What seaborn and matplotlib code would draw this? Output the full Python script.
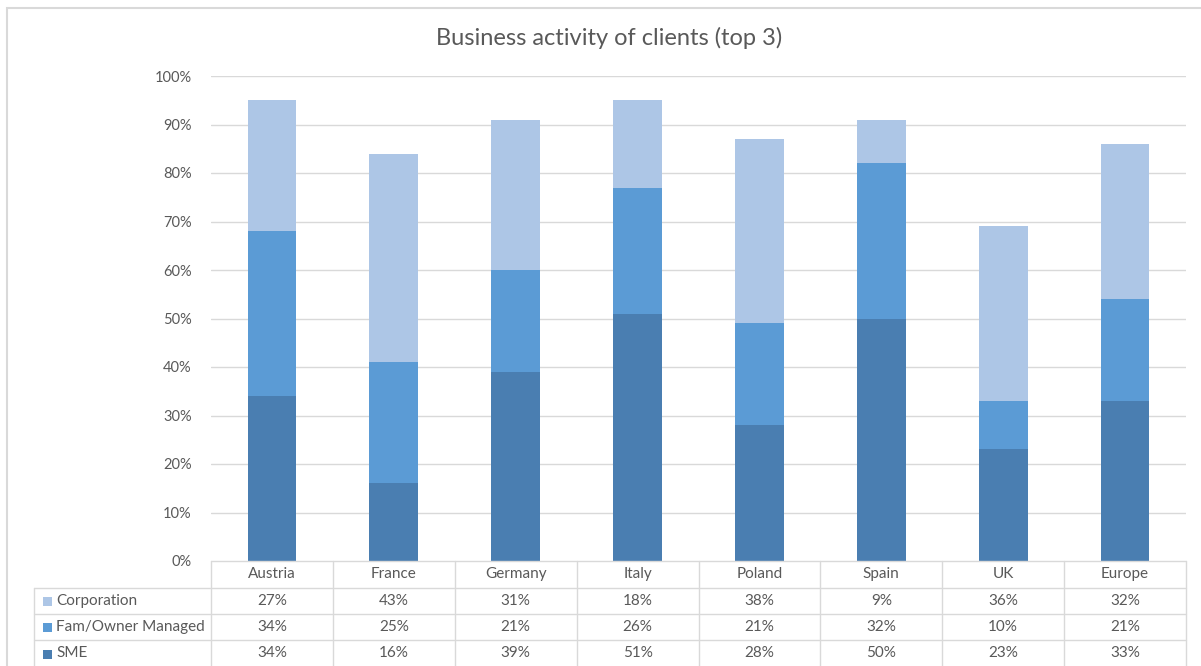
import matplotlib
matplotlib.use("Agg")
import matplotlib.pyplot as plt
from matplotlib.patches import Rectangle
import seaborn as sns
import pandas as pd

countries = ["Austria", "France", "Germany", "Italy", "Poland", "Spain", "UK", "Europe"]
series = ["Corporation", "Fam/Owner Managed", "SME"]
corporation = [27, 43, 31, 18, 38, 9, 36, 32]
fam_owner = [34, 25, 21, 26, 21, 32, 10, 21]
sme = [34, 16, 39, 51, 28, 50, 23, 33]
yticks = [0, 10, 20, 30, 40, 50, 60, 70, 80, 90, 100]

colors = {"Corporation": "#adc6e6", "Fam/Owner Managed": "#5b9bd5", "SME": "#4a7eb1"}
text_col = "#595959"
grid_col = "#d9d9d9"

sns.set_theme(style="white")
plt.rcParams["font.family"] = ["Lato", "DejaVu Sans"]

W, H = 1201, 666
fig = plt.figure(figsize=(W / 100, H / 100), dpi=100)


def fx(px):
    return px / W


def fy(py):
    return 1 - py / H


# plot area
x0, x1 = 211, 1186
y_top, y_bot = 76, 561
ax = fig.add_axes([fx(x0), fy(y_bot), fx(x1) - fx(x0), fy(y_top) - fy(y_bot)])

df = pd.DataFrame({"country": countries, "SME": sme, "Fam": fam_owner, "Corp": corporation})
df["lvl_sme"] = df["SME"] / 100
df["lvl_fam"] = (df["SME"] + df["Fam"]) / 100
df["lvl_corp"] = (df["SME"] + df["Fam"] + df["Corp"]) / 100

# stacked columns: draw cumulative totals from the top segment down
for col, name in [("lvl_corp", "Corporation"), ("lvl_fam", "Fam/Owner Managed"), ("lvl_sme", "SME")]:
    sns.barplot(data=df, x="country", y=col, color=colors[name], width=0.4,
                saturation=1, linewidth=0, edgecolor="none", ax=ax, zorder=3)

ax.set_xlim(-0.5, len(countries) - 0.5)
ax.set_ylim(0, 1)
ax.set_yticks([t / 100 for t in yticks])
ax.set_yticklabels([f"{t}%" for t in yticks], color=text_col, fontsize=10.5)
ax.tick_params(axis="y", length=0, pad=14)
ax.set_xticks([])
ax.set_xlabel("")
ax.set_ylabel("")
for s in ax.spines.values():
    s.set_visible(False)
for t in yticks[1:]:
    ax.axhline(t / 100, color=grid_col, lw=1, zorder=1)

# data table below the plot area
tab_left = 34
cell_w = (x1 - x0) / len(countries)
tab = fig.add_axes([fx(tab_left), 0, fx(x1) - fx(tab_left), fy(y_bot)])
left_data = -0.5 - (x0 - tab_left) / cell_w
right_data = len(countries) - 0.5
tab.set_xlim(left_data, right_data)
row_edges_px = [561, 588, 614, 640, 666]
tab.set_ylim(666, 561)
tab.axis("off")

lw = 1.0
tab.plot([-0.5, right_data], [561, 561], color=grid_col, lw=lw, clip_on=False)
for yy in row_edges_px[1:4]:
    tab.plot([left_data, right_data], [yy, yy], color=grid_col, lw=lw, clip_on=False)
for i in range(len(countries) + 1):
    tab.plot([i - 0.5, i - 0.5], [561, 666], color=grid_col, lw=lw, clip_on=False)
tab.plot([left_data, left_data], [588, 666], color=grid_col, lw=lw, clip_on=False)

for i, c in enumerate(countries):
    tab.text(i, (561 + 588) / 2, c, ha="center", va="center", color=text_col, fontsize=11)

rows = [("Corporation", corporation), ("Fam/Owner Managed", fam_owner), ("SME", sme)]
key_px = 9
for r, (name, vals) in enumerate(rows):
    yc = (row_edges_px[r + 1] + row_edges_px[r + 2]) / 2
    for i, v in enumerate(vals):
        tab.text(i, yc, f"{v}%", ha="center", va="center", color=text_col, fontsize=11)
    kx = left_data + (43 - tab_left) / cell_w
    tab.add_patch(Rectangle((kx, yc - key_px / 2 + 1), key_px / cell_w, key_px,
                            facecolor=colors[name], edgecolor="none", clip_on=False))
    tab.text(left_data + (56 - tab_left) / cell_w, yc, name, ha="left", va="center",
             color=text_col, fontsize=11)

fig.text(fx(609), fy(38), "Business activity of clients (top 3)", ha="center", va="center",
         color=text_col, fontsize=17)

# outer chart frame
fig.add_artist(Rectangle((fx(7), fy(680)), fx(1230) - fx(7), fy(8) - fy(680),
                         transform=fig.transFigure, fill=False, edgecolor=grid_col, lw=1.5))

fig.savefig("out.png", dpi=100)
